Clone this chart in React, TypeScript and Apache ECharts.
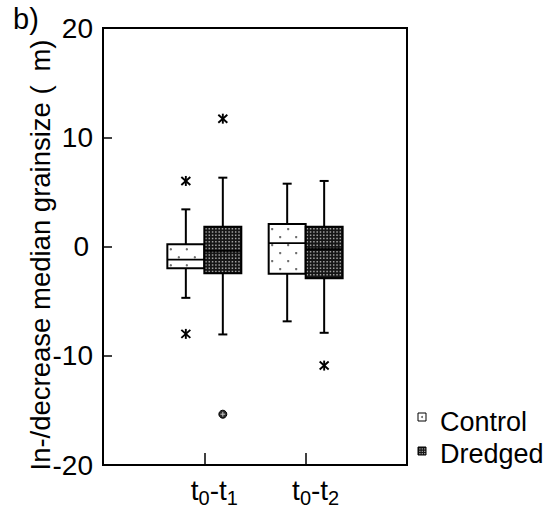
import React, { useEffect, useRef } from 'react';
import * as echarts from 'echarts';

// Sampling intervals (x positions 1 and 2 on the value axis)
const groups = ['t0-t1', 't0-t2'];
// Box statistics per interval: [lower whisker, Q1, median, Q3, upper whisker]
const controlBoxes = [
  [-4.7, -2.0, -1.2, 0.2, 3.4],
  [-6.85, -2.5, 0.3, 2.05, 5.75],
];
const dredgedBoxes = [
  [-8.05, -2.45, -0.4, 1.8, 6.3],
  [-7.9, -2.9, -0.25, 1.8, 6.0],
];
// Outliers: [interval index, value]
const controlOutliers = [
  [0, 6.0],
  [0, -8.0],
];
const dredgedOutliers = [
  [0, 11.7],
  [1, -10.9],
];
const dredgedExtremes = [[0, -15.35]];
const yMin = -20;
const yMax = 20;
const yStep = 10;

const FONT = "'Liberation Sans', Arial, Helvetica, sans-serif";
const BOX_FRAC = 0.365; // box width as a fraction of one x unit
const CONTROL_FILL = '#ffffff';
const DREDGED_FILL = '#161616';

function boxRenderer(side: number, kind: 'control' | 'dredged') {
  return (params: any, api: any) => {
    const x = api.value(0);
    const lo = api.value(1);
    const q1 = api.value(2);
    const med = api.value(3);
    const q3 = api.value(4);
    const hi = api.value(5);
    const unit = api.size([1, 0])[0];
    const w = unit * BOX_FRAC;
    const cx = api.coord([x, 0])[0];
    const left = side < 0 ? cx - w : cx;
    const mid = left + w / 2;
    const yLo = api.coord([x, lo])[1];
    const yQ1 = api.coord([x, q1])[1];
    const yMed = api.coord([x, med])[1];
    const yQ3 = api.coord([x, q3])[1];
    const yHi = api.coord([x, hi])[1];
    const top = yQ3;
    const bottom = yQ1;
    const h = bottom - top;
    const ls = { stroke: '#000', lineWidth: 2 };
    const cap = 4.5;
    const children: any[] = [
      { type: 'line', shape: { x1: mid, y1: yHi, x2: mid, y2: top }, style: ls },
      { type: 'line', shape: { x1: mid, y1: bottom, x2: mid, y2: yLo }, style: ls },
      { type: 'line', shape: { x1: mid - cap, y1: yHi, x2: mid + cap, y2: yHi }, style: ls },
      { type: 'line', shape: { x1: mid - cap, y1: yLo, x2: mid + cap, y2: yLo }, style: ls },
      {
        type: 'rect',
        shape: { x: left, y: top, width: w, height: h },
        style: { fill: kind === 'control' ? CONTROL_FILL : DREDGED_FILL },
      },
    ];
    if (kind === 'control') {
      // sparse staggered dot texture
      for (let r = 0; ; r++) {
        const yy = top + 5 + 8 * r;
        if (yy > bottom - 2) break;
        for (let c = 0; ; c++) {
          const xx = left + 3.5 + 8 * c;
          if (xx > left + w - 1.5) break;
          if ((c + r) % 2 !== 0) continue;
          children.push({
            type: 'circle',
            shape: { cx: xx, cy: yy, r: 1.2 },
            style: { fill: '#6e6e6e' },
          });
        }
      }
    } else {
      // dense dot texture: dashed rows
      for (let yy = top + 1.8; yy < bottom - 0.8; yy += 3.3) {
        children.push({
          type: 'line',
          shape: { x1: left + 0.9, y1: yy, x2: left + w - 0.5, y2: yy },
          style: { stroke: '#a2a2a2', lineWidth: 1.5, lineDash: [1.5, 1.8] },
        });
      }
    }
    children.push({
      type: 'line',
      shape: { x1: left, y1: yMed, x2: left + w, y2: yMed },
      style: { stroke: '#000', lineWidth: 1.8 },
    });
    children.push({
      type: 'rect',
      shape: { x: left, y: top, width: w, height: h },
      style: { fill: 'none', stroke: '#000', lineWidth: 2 },
    });
    return { type: 'group', children };
  };
}

function asteriskRenderer(side: number) {
  return (params: any, api: any) => {
    const x = api.value(0);
    const v = api.value(1);
    const w = api.size([1, 0])[0] * BOX_FRAC;
    const p = api.coord([x, v]);
    const cx = p[0] + (side * w) / 2;
    const cy = p[1];
    const s = { stroke: '#000', lineWidth: 1.9 };
    return {
      type: 'group',
      children: [
        { type: 'line', shape: { x1: cx, y1: cy - 5, x2: cx, y2: cy + 5 }, style: s },
        { type: 'line', shape: { x1: cx - 4.5, y1: cy - 4, x2: cx + 4.5, y2: cy + 4 }, style: s },
        { type: 'line', shape: { x1: cx - 4.5, y1: cy + 4, x2: cx + 4.5, y2: cy - 4 }, style: s },
      ],
    };
  };
}

function extremeRenderer(side: number) {
  return (params: any, api: any) => {
    const x = api.value(0);
    const v = api.value(1);
    const w = api.size([1, 0])[0] * BOX_FRAC;
    const p = api.coord([x, v]);
    const cx = p[0] + (side * w) / 2;
    const cy = p[1];
    const s = { stroke: '#c8c8c8', lineWidth: 1 };
    return {
      type: 'group',
      children: [
        { type: 'circle', shape: { cx, cy, r: 4 }, style: { fill: '#2a2a2a', stroke: '#000', lineWidth: 1 } },
        { type: 'line', shape: { x1: cx - 2.4, y1: cy, x2: cx + 2.4, y2: cy }, style: s },
        { type: 'line', shape: { x1: cx, y1: cy - 2.4, x2: cx, y2: cy + 2.4 }, style: s },
      ],
    };
  };
}

function labelFor(v: number) {
  const g = groups[v - 1];
  if (!g) return '';
  const [a, b] = g.split('-');
  return `{t|${a[0]}}{s|${a.slice(1)}}{t|-${b[0]}}{s|${b.slice(1)}}`;
}

export default function App() {
  const ref = useRef<HTMLDivElement>(null);

  useEffect(() => {
    if (!ref.current) return;
    const chart = echarts.init(ref.current, undefined, { renderer: 'svg' });

    const dredgedIconDots: any[] = [];
    for (let i = 0; i < 3; i++) {
      for (let j = 0; j < 3; j++) {
        dredgedIconDots.push({
          type: 'rect',
          shape: { x: 419.3 + i * 2.4, y: 448.3 + j * 2.4, width: 1.2, height: 1.2 },
          style: { fill: '#a8a8a8' },
        });
      }
    }

    chart.setOption({
      animation: false,
      backgroundColor: '#ffffff',
      grid: {
        left: 103,
        top: 28,
        width: 304,
        height: 437,
        show: true,
        borderColor: '#000',
        borderWidth: 2,
        backgroundColor: 'transparent',
      },
      xAxis: {
        type: 'value',
        min: 0,
        max: groups.length + 1,
        interval: 1,
        splitLine: { show: false },
        axisLine: { show: true, onZero: false, lineStyle: { color: '#000', width: 2 } },
        axisTick: { show: true, inside: true, length: 12, lineStyle: { color: '#000', width: 1.5 } },
        axisLabel: {
          margin: 8,
          color: '#000',
          fontFamily: FONT,
          padding: [0, 0, 0, 20],
          formatter: (v: number) => labelFor(v),
          rich: {
            t: { fontSize: 28, lineHeight: 34, fontFamily: FONT, color: '#000' },
            s: { fontSize: 20, lineHeight: 18, padding: [16, 0, 0, 0], fontFamily: FONT, color: '#000' },
          },
        },
      },
      yAxis: {
        type: 'value',
        min: yMin,
        max: yMax,
        interval: yStep,
        splitLine: { show: false },
        axisLine: { show: true, onZero: false, lineStyle: { color: '#000', width: 2 } },
        axisTick: { show: true, inside: true, length: 9, lineStyle: { color: '#000', width: 1.5 } },
        axisLabel: {
          margin: 10,
          fontSize: 28,
          color: '#000',
          fontFamily: FONT,
          formatter: (v: number) => (v === 0 ? '{z|0}' : String(v)),
          rich: {
            z: { fontSize: 28, fontFamily: FONT, color: '#000', padding: [0, 4, 0, 0] },
          },
        },
      },
      series: [
        {
          type: 'custom',
          name: 'Control',
          renderItem: boxRenderer(-1, 'control'),
          data: controlBoxes.map((b, i) => [i + 1, ...b]),
          encode: { x: 0, y: [1, 2, 3, 4, 5] },
          z: 3,
        },
        {
          type: 'custom',
          name: 'Dredged',
          renderItem: boxRenderer(1, 'dredged'),
          data: dredgedBoxes.map((b, i) => [i + 1, ...b]),
          encode: { x: 0, y: [1, 2, 3, 4, 5] },
          z: 3,
        },
        {
          type: 'custom',
          renderItem: asteriskRenderer(-1),
          data: controlOutliers.map(([g, v]) => [g + 1, v]),
          encode: { x: 0, y: 1 },
          z: 4,
        },
        {
          type: 'custom',
          renderItem: asteriskRenderer(1),
          data: dredgedOutliers.map(([g, v]) => [g + 1, v]),
          encode: { x: 0, y: 1 },
          z: 4,
        },
        {
          type: 'custom',
          renderItem: extremeRenderer(1),
          data: dredgedExtremes.map(([g, v]) => [g + 1, v]),
          encode: { x: 0, y: 1 },
          z: 4,
        },
      ],
      graphic: [
        {
          type: 'text',
          left: 13,
          top: 4,
          style: { text: 'b)', fontSize: 29, fontFamily: FONT, fill: '#000' },
        },
        {
          type: 'text',
          x: 40,
          y: 255,
          rotation: Math.PI / 2,
          style: {
            text: 'In-/decrease median grainsize (\u2002m)',
            fontSize: 27.5,
            fontFamily: FONT,
            fill: '#000',
            align: 'center',
            verticalAlign: 'middle',
          },
        },
        {
          type: 'rect',
          shape: { x: 418, y: 413, width: 8, height: 8 },
          style: { fill: '#fff', stroke: '#000', lineWidth: 1 },
        },
        {
          type: 'circle',
          shape: { cx: 422, cy: 417, r: 1 },
          style: { fill: '#666' },
        },
        {
          type: 'text',
          x: 440,
          y: 422,
          style: { text: 'Control', fontSize: 27, fontFamily: FONT, fill: '#000', verticalAlign: 'middle' },
        },
        {
          type: 'rect',
          shape: { x: 418, y: 447, width: 8, height: 8 },
          style: { fill: DREDGED_FILL, stroke: '#000', lineWidth: 1 },
        },
        ...dredgedIconDots,
        {
          type: 'text',
          x: 440,
          y: 454,
          style: { text: 'Dredged', fontSize: 27, fontFamily: FONT, fill: '#000', verticalAlign: 'middle' },
        },
      ],
    });

    return () => chart.dispose();
  }, []);

  return (
    <div
      ref={ref}
      style={{ position: 'fixed', left: 0, top: 0, width: 555, height: 520, background: '#fff' }}
    />
  );
}
